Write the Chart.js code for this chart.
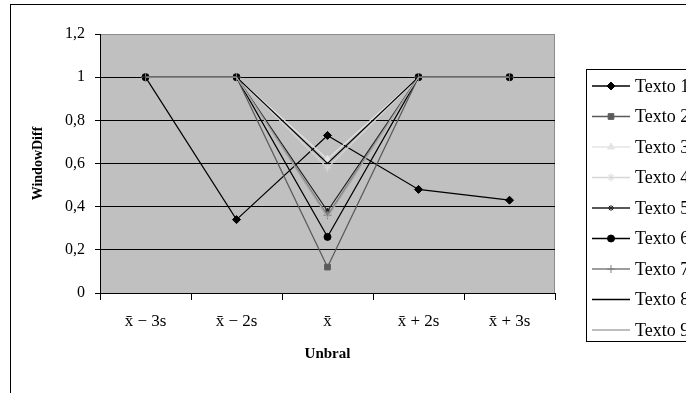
<!DOCTYPE html>
<html>
<head>
<meta charset="utf-8">
<script src="https://cdn.jsdelivr.net/npm/chart.js@4/dist/chart.umd.min.js"></script>
<style>
  body { margin: 0; background: #fff; }
  canvas { display: block; }
</style>
</head>
<body>
<canvas id="lineChart" width="686" height="393"></canvas>
<script>
const categories = ['x\u0304 \u2212 3s', 'x\u0304 \u2212 2s', 'x\u0304', 'x\u0304 + 2s', 'x\u0304 + 3s'];
const seriesNames = ['Texto 1', 'Texto 2', 'Texto 3', 'Texto 4', 'Texto 5', 'Texto 6', 'Texto 7', 'Texto 8', 'Texto 9'];

const texto1 = [1, 0.34, 0.73, 0.48, 0.43];
const texto2 = [1, 1, 0.12, 1, 1];
const texto3 = [1, 1, 0.62, 1, 1];
const texto4 = [1, 1, 0.58, 1, 1];
const texto5 = [1, 1, 0.38, 1, 1];
const texto6 = [1, 1, 0.26, 1, 1];
const texto7 = [1, 1, 0.36, 1, 1];
const texto8 = [1, 1, 0.60, 1, 1];
const texto9 = [1, 1, 0.35, 1, 1];

const seriesValues = [texto1, texto2, texto3, texto4, texto5, texto6, texto7, texto8, texto9];

// estilo de cada serie (escala de grises tipo Excel)
const styles = [
  { color: '#000000', point: 'rectRot', radius: 4 },
  { color: '#5a5a5a', point: 'rect', radius: 4 },
  { color: '#e4e4e4', point: 'triangle', radius: 4 },
  { color: '#d6d6d6', point: 'star', radius: 4 },
  { color: '#202020', point: 'star', radius: 3 },
  { color: '#000000', point: 'circle', radius: 3.5 },
  { color: '#7c7c7c', point: 'cross', radius: 4 },
  { color: '#000000', point: 'line', radius: 3 },
  { color: '#a8a8a8', point: 'circle', radius: 0 }
];

const SERIF = '"Liberation Serif", "DejaVu Serif", serif';

const frameAndLegend = {
  id: 'frameAndLegend',
  beforeDraw(chart) {
    const ctx = chart.ctx;
    const a = chart.chartArea;
    ctx.save();
    ctx.fillStyle = '#ffffff';
    ctx.fillRect(0, 0, chart.width, chart.height);
    ctx.strokeStyle = '#000';
    ctx.lineWidth = 1;
    ctx.strokeRect(10.5, 4.5, 700, 400);
    ctx.fillStyle = '#c0c0c0';
    ctx.fillRect(a.left, a.top, a.right - a.left, a.bottom - a.top);
    ctx.strokeStyle = '#8c8c8c';
    ctx.strokeRect(a.left + 0.5, a.top + 0.5, a.right - a.left - 1, a.bottom - a.top);
    ctx.restore();
  },
  afterDraw(chart) {
    const ctx = chart.ctx;
    const lx = 586, ly = 69, rowH = 30.5;
    ctx.save();
    ctx.fillStyle = '#fff';
    ctx.fillRect(lx, ly, 200, 272);
    ctx.strokeStyle = '#000';
    ctx.lineWidth = 1;
    ctx.strokeRect(lx + 0.5, ly + 0.5, 200, 272);
    chart.data.datasets.forEach((ds, i) => {
      const y = 86 + i * rowH;
      ctx.strokeStyle = ds.borderColor;
      ctx.lineWidth = 1.5;
      ctx.beginPath();
      ctx.moveTo(592, y);
      ctx.lineTo(630, y);
      ctx.stroke();
      if (ds.pointRadius > 0) {
        ctx.fillStyle = ds.pointBackgroundColor;
        ctx.strokeStyle = ds.pointBorderColor;
        ctx.lineWidth = 1;
        Chart.helpers.drawPoint(ctx, { pointStyle: ds.pointStyle, radius: ds.pointRadius, borderWidth: 1, rotation: 0 }, 611, y);
      }
      ctx.fillStyle = '#000';
      ctx.font = '18px ' + SERIF;
      ctx.textBaseline = 'middle';
      ctx.fillText(ds.label, 635, y + 1);
    });
    ctx.restore();
  }
};

document.addEventListener('DOMContentLoaded', () => {
  const ctx = document.getElementById('lineChart').getContext('2d');

  const datasets = seriesValues.map((vals, i) => ({
    label: seriesNames[i],
    data: vals,
    borderColor: styles[i].color,
    backgroundColor: styles[i].color,
    pointBackgroundColor: styles[i].color,
    pointBorderColor: styles[i].color,
    pointStyle: styles[i].point,
    pointRadius: styles[i].radius,
    pointBorderWidth: 1,
    borderWidth: 1.2,
    tension: 0,
    fill: false,
    order: seriesValues.length - i
  }));

  new Chart(ctx, {
    type: 'line',
    data: { labels: categories, datasets: datasets },
    plugins: [frameAndLegend],
    options: {
      responsive: false,
      animation: false,
      devicePixelRatio: 1,
      layout: { padding: { left: 0, top: 34, right: 131, bottom: 26 } },
      plugins: {
        legend: { display: false },
        tooltip: { enabled: false }
      },
      scales: {
        x: {
          offset: true,
          grid: {
            offset: true,
            drawOnChartArea: false,
            drawTicks: true,
            tickLength: 7,
            color: '#000'
          },
          border: { color: '#000', width: 1 },
          ticks: {
            color: '#000',
            padding: 11,
            maxRotation: 0,
            font: { family: SERIF, size: 17 }
          },
          title: {
            display: true,
            text: 'Unbral',
            color: '#000',
            padding: { top: 4, bottom: 4 },
            font: { family: SERIF, size: 15, weight: 'bold' }
          },
          afterFit(scale) { scale.height = 74; }
        },
        y: {
          min: 0,
          max: 1.2,
          grid: {
            color: c => (c.tick && c.tick.value > 1.1 ? '#8c8c8c' : '#000'),
            tickColor: '#000',
            tickLength: 5,
            lineWidth: 1
          },
          border: { color: '#000', width: 1 },
          ticks: {
            stepSize: 0.2,
            color: '#000',
            padding: 10,
            font: { family: SERIF, size: 16 },
            callback: v => (Math.round(v * 10) / 10).toString().replace('.', ',')
          },
          title: {
            display: true,
            text: 'WindowDiff',
            color: '#000',
            padding: { top: 30, bottom: 0 },
            font: { family: SERIF, size: 14, weight: 'bold' }
          },
          afterFit(scale) { scale.width = 100; }
        }
      }
    }
  });
});
</script>
</body>
</html>
